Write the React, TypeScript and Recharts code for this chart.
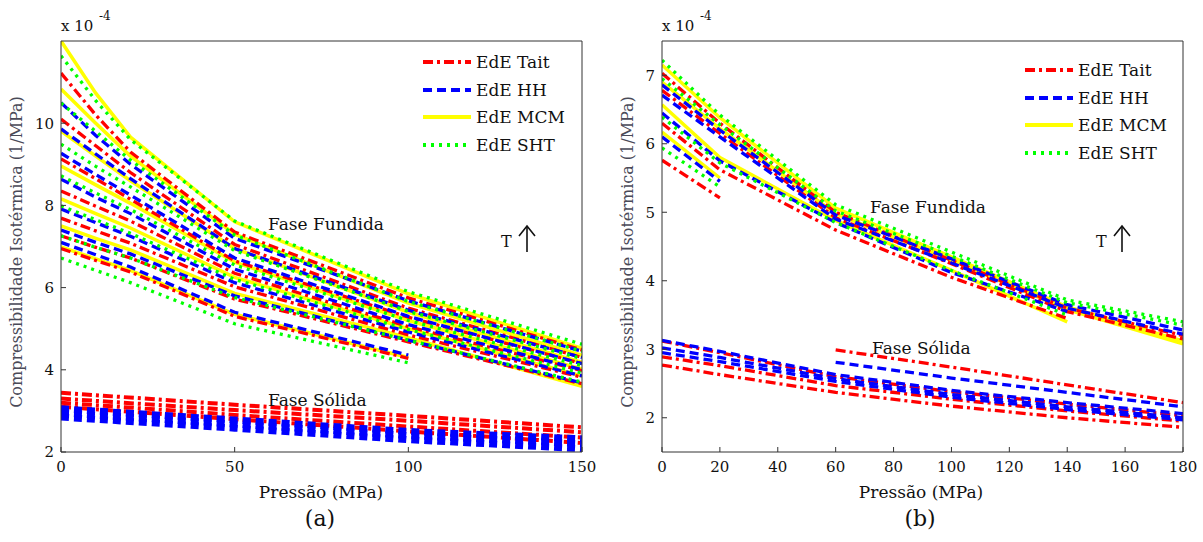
import React from 'react';
import { LineChart, Line, XAxis, YAxis } from 'recharts';

const FONT = '"DejaVu Serif", serif';

// pressure grids (MPa)
const pressA = [0, 10, 20, 50, 100, 150];
const pressSolidA = [0, 50, 100, 150];
const pressB = [0, 20, 60, 100, 140, 180];
const pressSolidB60 = [60, 100, 140, 180];

// (a) fused phase, one row per isotherm, values x 1e-4 1/MPa
const taitA = [
  [11.22, 10.2, 9.3, 7.35, 5.75, 4.48],
  [10.1, 9.45, 8.8, 7.05, 5.5, 4.3],
  [9.13, 8.65, 8.15, 6.65, 5.28, 4.15],
  [8.35, 7.98, 7.62, 6.35, 5.05, 3.98],
  [7.69, 7.38, 7.08, 6.02, 4.85, 3.82],
  [7.26, 6.98, 6.72, 5.72, 4.68, 3.66],
  [6.95, 6.66, 6.38, 5.3, 4.28],
];
const hhA = [
  [10.5, 9.7, 9.0, 7.2, 5.68, 4.45],
  [9.86, 9.25, 8.65, 6.95, 5.45, 4.3],
  [9.27, 8.75, 8.25, 6.72, 5.3, 4.15],
  [8.64, 8.2, 7.8, 6.45, 5.1, 4.0],
  [7.91, 7.58, 7.25, 6.12, 4.92, 3.85],
  [7.4, 7.1, 6.82, 5.8, 4.72, 3.68],
  [7.1, 6.8, 6.5, 5.4, 4.36],
];
const mcmA = [
  [12.0, 10.73, 9.66, 7.6, 5.85, 4.52],
  [10.83, 10.0, 9.2, 7.3, 5.62, 4.35],
  [9.81, 9.2, 8.6, 6.95, 5.4, 4.18],
  [8.96, 8.5, 8.05, 6.62, 5.2, 4.02],
  [8.16, 7.8, 7.45, 6.25, 5.0, 3.85],
  [7.5, 7.2, 6.92, 5.86, 4.78, 3.6],
  [6.99, 6.7, 6.42, 5.35, 4.3],
];
const shtA = [
  [11.64, 10.55, 9.6, 7.62, 5.9, 4.62],
  [10.49, 9.8, 9.1, 7.28, 5.66, 4.45],
  [9.49, 8.95, 8.45, 6.9, 5.42, 4.27],
  [8.72, 8.3, 7.9, 6.55, 5.2, 4.1],
  [7.99, 7.65, 7.32, 6.2, 4.98, 3.92],
  [7.26, 6.98, 6.72, 5.76, 4.72, 3.7],
  [6.72, 6.42, 6.12, 5.12, 4.17],
];

// (a) solid phase
const taitSolidA = [
  [3.44, 3.15, 2.88, 2.6],
  [3.3, 3.02, 2.76, 2.48],
  [3.2, 2.9, 2.62, 2.35],
  [3.1, 2.8, 2.5, 2.22],
];
const hhSolidA = [
  [3.05, 2.78, 2.5, 2.32],
  [2.95, 2.68, 2.4, 2.2],
  [2.85, 2.58, 2.3, 2.08],
];

// (b) fused phase
const taitB = [
  [7.03, 6.3, 5.0, 4.3, 3.6, 3.2],
  [6.78, 6.15, 4.92, 4.25, 3.55, 3.15],
  [6.3, 5.62, 4.74, 4.05, 3.45],
  [5.76, 5.21],
];
const hhB = [
  [6.86, 6.2, 4.96, 4.32, 3.65, 3.28],
  [6.71, 6.1, 4.9, 4.26, 3.6, 3.22],
  [6.45, 5.75, 4.85, 4.12, 3.55],
  [6.1, 5.45],
];
const mcmB = [
  [7.15, 6.38, 5.06, 4.35, 3.62, 3.12],
  [6.9, 6.22, 4.98, 4.3, 3.58, 3.08],
  [6.57, 5.8, 4.88, 4.15, 3.4],
  [6.17, 5.5],
];
const shtB = [
  [7.22, 6.42, 5.11, 4.42, 3.72, 3.4],
  [6.95, 6.28, 5.02, 4.36, 3.68, 3.35],
  [6.39, 5.72, 4.85, 4.15, 3.5],
  [5.94, 5.37],
];

// (b) solid phase
const taitSolidB = [
  [3.12, 2.95, 2.6, 2.38, 2.2, 2.03],
  [2.89, 2.76, 2.47, 2.27, 2.1, 1.95],
  [2.77, 2.63, 2.37, 2.17, 2.0, 1.86],
];
const hhSolidB = [
  [3.13, 2.97, 2.63, 2.4, 2.22, 2.06],
  [3.02, 2.88, 2.57, 2.34, 2.16, 2.0],
  [2.95, 2.82, 2.53, 2.3, 2.12, 1.97],
];
const taitSolidB60 = [2.99, 2.74, 2.48, 2.22];
const hhSolidB60 = [2.81, 2.58, 2.37, 2.16];

const xTicksA = [0, 50, 100, 150];
const yTicksA = [2, 4, 6, 8, 10];
const xTicksB = [0, 20, 40, 60, 80, 100, 120, 140, 160, 180];
const yTicksB = [2, 3, 4, 5, 6, 7];

const legendNames = ['EdE Tait', 'EdE HH', 'EdE MCM', 'EdE SHT'];
const legendKinds = ['tait', 'hh', 'mcm', 'sht'];

const STYLES: Record<string, { color: string; dash?: string }> = {
  tait: { color: '#ff0000', dash: '10 4 3 4' },
  hh: { color: '#0000ff', dash: '9 5' },
  mcm: { color: '#ffff00' },
  sht: { color: '#00ff00', dash: '3 5' },
};

const pts = (press: number[], vals: number[]) => vals.map((k, i) => ({ p: press[i], k }));

function lines(id: string, press: number[], rows: number[][], kind: string, width = 3, dash?: string) {
  const s = STYLES[kind];
  return rows.map((r, i) => (
    <Line
      key={`${id}-${i}`}
      data={pts(press, r)}
      dataKey="k"
      type="linear"
      stroke={s.color}
      strokeWidth={width}
      strokeDasharray={dash || s.dash}
      dot={false}
      activeDot={false}
      isAnimationActive={false}
    />
  ));
}

const tickStyle = { fill: '#111', fontSize: 15, fontFamily: FONT };

function Panel({ left, ml, mr, xMax, xTicks, yDomain, yTicks, children }: any) {
  return (
    <div style={{ position: 'absolute', left, top: 0 }}>
      <LineChart width={600} height={500} margin={{ top: 40, right: mr, bottom: 47, left: ml }}>
        <XAxis type="number" dataKey="p" domain={[0, xMax]} ticks={xTicks} interval={0} allowDataOverflow
          height={1} tickSize={-5} tickMargin={14} stroke="#333" tick={tickStyle} />
        <XAxis xAxisId="top" orientation="top" type="number" dataKey="p" domain={[0, xMax]} ticks={xTicks}
          interval={0} allowDataOverflow height={1} tickSize={-5} tick={false} stroke="#333" />
        <YAxis type="number" domain={yDomain} ticks={yTicks} interval={0} allowDataOverflow
          width={1} tickSize={-5} tickMargin={12} stroke="#333" tick={tickStyle} />
        <YAxis yAxisId="r" orientation="right" type="number" domain={yDomain} ticks={yTicks} interval={0}
          allowDataOverflow width={1} tickSize={-5} tick={false} stroke="#333" />
        {children}
      </LineChart>
    </div>
  );
}

function Key({ left, top }: { left: number; top: number }) {
  return (
    <>
      {legendNames.map((name, i) => {
        const s = STYLES[legendKinds[i]];
        return (
          <div key={name} style={{ position: 'absolute', left, top: top + i * 27.5 - 10, height: 20, display: 'flex', alignItems: 'center' }}>
            <svg width={50} height={20}>
              <line x1={1} x2={49} y1={10} y2={10} stroke={s.color} strokeWidth={4} strokeDasharray={s.dash} />
            </svg>
            <span style={{ marginLeft: 4, font: `17px ${FONT}`, color: '#111', whiteSpace: 'nowrap' }}>{name}</span>
          </div>
        );
      })}
    </>
  );
}

const txt = (s: React.CSSProperties): React.CSSProperties => ({
  position: 'absolute', fontFamily: FONT, fontSize: 17, color: '#111', whiteSpace: 'nowrap', lineHeight: 1, ...s,
});

function Exponent({ left }: { left: number }) {
  return (
    <>
      <div style={txt({ left, top: 19, fontSize: 15 })}>x 10</div>
      <div style={txt({ left: left + 38, top: 10, fontSize: 12 })}>-4</div>
    </>
  );
}

function Arrow({ x, y }: { x: number; y: number }) {
  return (
    <>
      <div style={txt({ left: x - 26, top: y + 8, fontSize: 16 })}>T</div>
      <svg style={{ position: 'absolute', left: x - 10, top: y - 2 }} width={20} height={30}>
        <line x1={10} y1={2} x2={10} y2={28} stroke="#111" strokeWidth={1.6} />
        <polyline points="2,12 10,2 18,12" fill="none" stroke="#111" strokeWidth={1.6} />
      </svg>
    </>
  );
}

function YLabel({ cx }: { cx: number }) {
  return (
    <div style={txt({ left: cx, top: 252, fontSize: 16, color: '#4a4a58', transform: 'translate(-50%, -50%) rotate(-90deg)' })}>
      Compressibilidade Isotérmica (1/MPa)
    </div>
  );
}

export default function App() {
  return (
    <div style={{ position: 'absolute', left: 0, top: 0, width: 1203, height: 542, background: '#fff', overflow: 'hidden' }}>
      <Panel left={0} ml={60} mr={17} xMax={150} xTicks={xTicksA} yDomain={[2, 12]} yTicks={yTicksA}>
        {lines('ats', pressSolidA, taitSolidA, 'tait', 4)}
        {lines('ahs', pressSolidA, hhSolidA, 'hh', 7, '8 5')}
        {lines('am', pressA, mcmA, 'mcm', 3.5)}
        {lines('at', pressA, taitA, 'tait', 3.3)}
        {lines('ah', pressA, hhA, 'hh', 3.3)}
        {lines('as', pressA, shtA, 'sht', 3.3)}
      </Panel>
      <Panel left={600} ml={61} mr={16} xMax={180} xTicks={xTicksB} yDomain={[1.5, 7.5]} yTicks={yTicksB}>
        {lines('bts', pressB, taitSolidB, 'tait', 3.3)}
        {lines('bhs', pressB, hhSolidB, 'hh', 3.3)}
        {lines('bts60', pressSolidB60, [taitSolidB60], 'tait', 3.3)}
        {lines('bhs60', pressSolidB60, [hhSolidB60], 'hh', 3.3)}
        {lines('bm', pressB, mcmB, 'mcm', 3.5)}
        {lines('bt', pressB, taitB, 'tait', 3.3)}
        {lines('bh', pressB, hhB, 'hh', 3.3)}
        {lines('bs', pressB, shtB, 'sht', 3.3)}
      </Panel>

      <Exponent left={61} />
      <Exponent left={662} />
      <YLabel cx={17} />
      <YLabel cx={628} />
      <Key left={422} top={62} />
      <Key left={1024} top={70} />

      <div style={txt({ left: 268, top: 216 })}>Fase Fundida</div>
      <div style={txt({ left: 268, top: 392 })}>Fase Sólida</div>
      <div style={txt({ left: 870, top: 199 })}>Fase Fundida</div>
      <div style={txt({ left: 872, top: 340 })}>Fase Sólida</div>
      <Arrow x={527} y={226} />
      <Arrow x={1122} y={226} />

      <div style={txt({ left: 321, top: 484, transform: 'translateX(-50%)' })}>Pressão (MPa)</div>
      <div style={txt({ left: 921, top: 484, transform: 'translateX(-50%)' })}>Pressão (MPa)</div>
      <div style={txt({ left: 320, top: 508, fontSize: 22, transform: 'translateX(-50%)' })}>(a)</div>
      <div style={txt({ left: 920, top: 508, fontSize: 22, transform: 'translateX(-50%)' })}>(b)</div>
    </div>
  );
}
